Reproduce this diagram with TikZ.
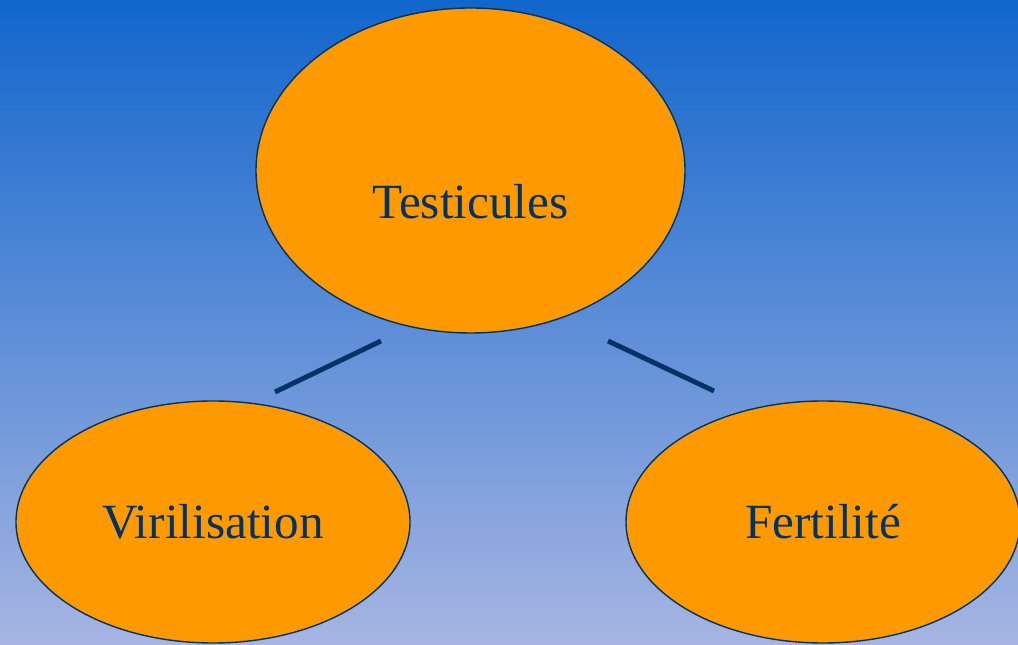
\documentclass[tikz,border=0pt]{standalone}
\usepackage{fontspec}
\setmainfont{Liberation Serif}
\usetikzlibrary{shapes.geometric}
\definecolor{bgtop}{RGB}{17,102,204}
\definecolor{bgbot}{RGB}{166,181,226}
\definecolor{navy}{RGB}{0,51,102}
\definecolor{bulle}{RGB}{255,153,0}
\tikzset{
  bubble/.style={ellipse,draw=navy,line width=0.8pt,fill=bulle,inner sep=0pt,
    text=navy,font=\fontsize{28}{32}\selectfont},
  link/.style={draw=navy,line width=2.8pt}
}
\begin{document}
\begin{tikzpicture}
  \clip (0,0) rectangle (20.36,12.88);
  \shade[top color=bgtop,bottom color=bgbot] (0,0) rectangle (20.36,12.88);
  \node[bubble,minimum width=8.58cm,minimum height=6.5cm,text height=1.94cm,text depth=0pt] (testicules) at (9.41,9.47) {Testicules};
  \node[bubble,minimum width=7.88cm,minimum height=4.84cm] (virilisation) at (4.26,2.44) {Virilisation};
  \node[bubble,minimum width=7.88cm,minimum height=4.84cm] (fertilite) at (16.46,2.44) {Fertilité};
  \coordinate (l1) at (7.62,6.06);
  \coordinate (l2) at (5.50,5.04);
  \coordinate (r1) at (12.16,6.06);
  \coordinate (r2) at (14.28,5.06);
  \draw[link] (l1) -- (l2);
  \draw[link] (r1) -- (r2);
\end{tikzpicture}
\end{document}
